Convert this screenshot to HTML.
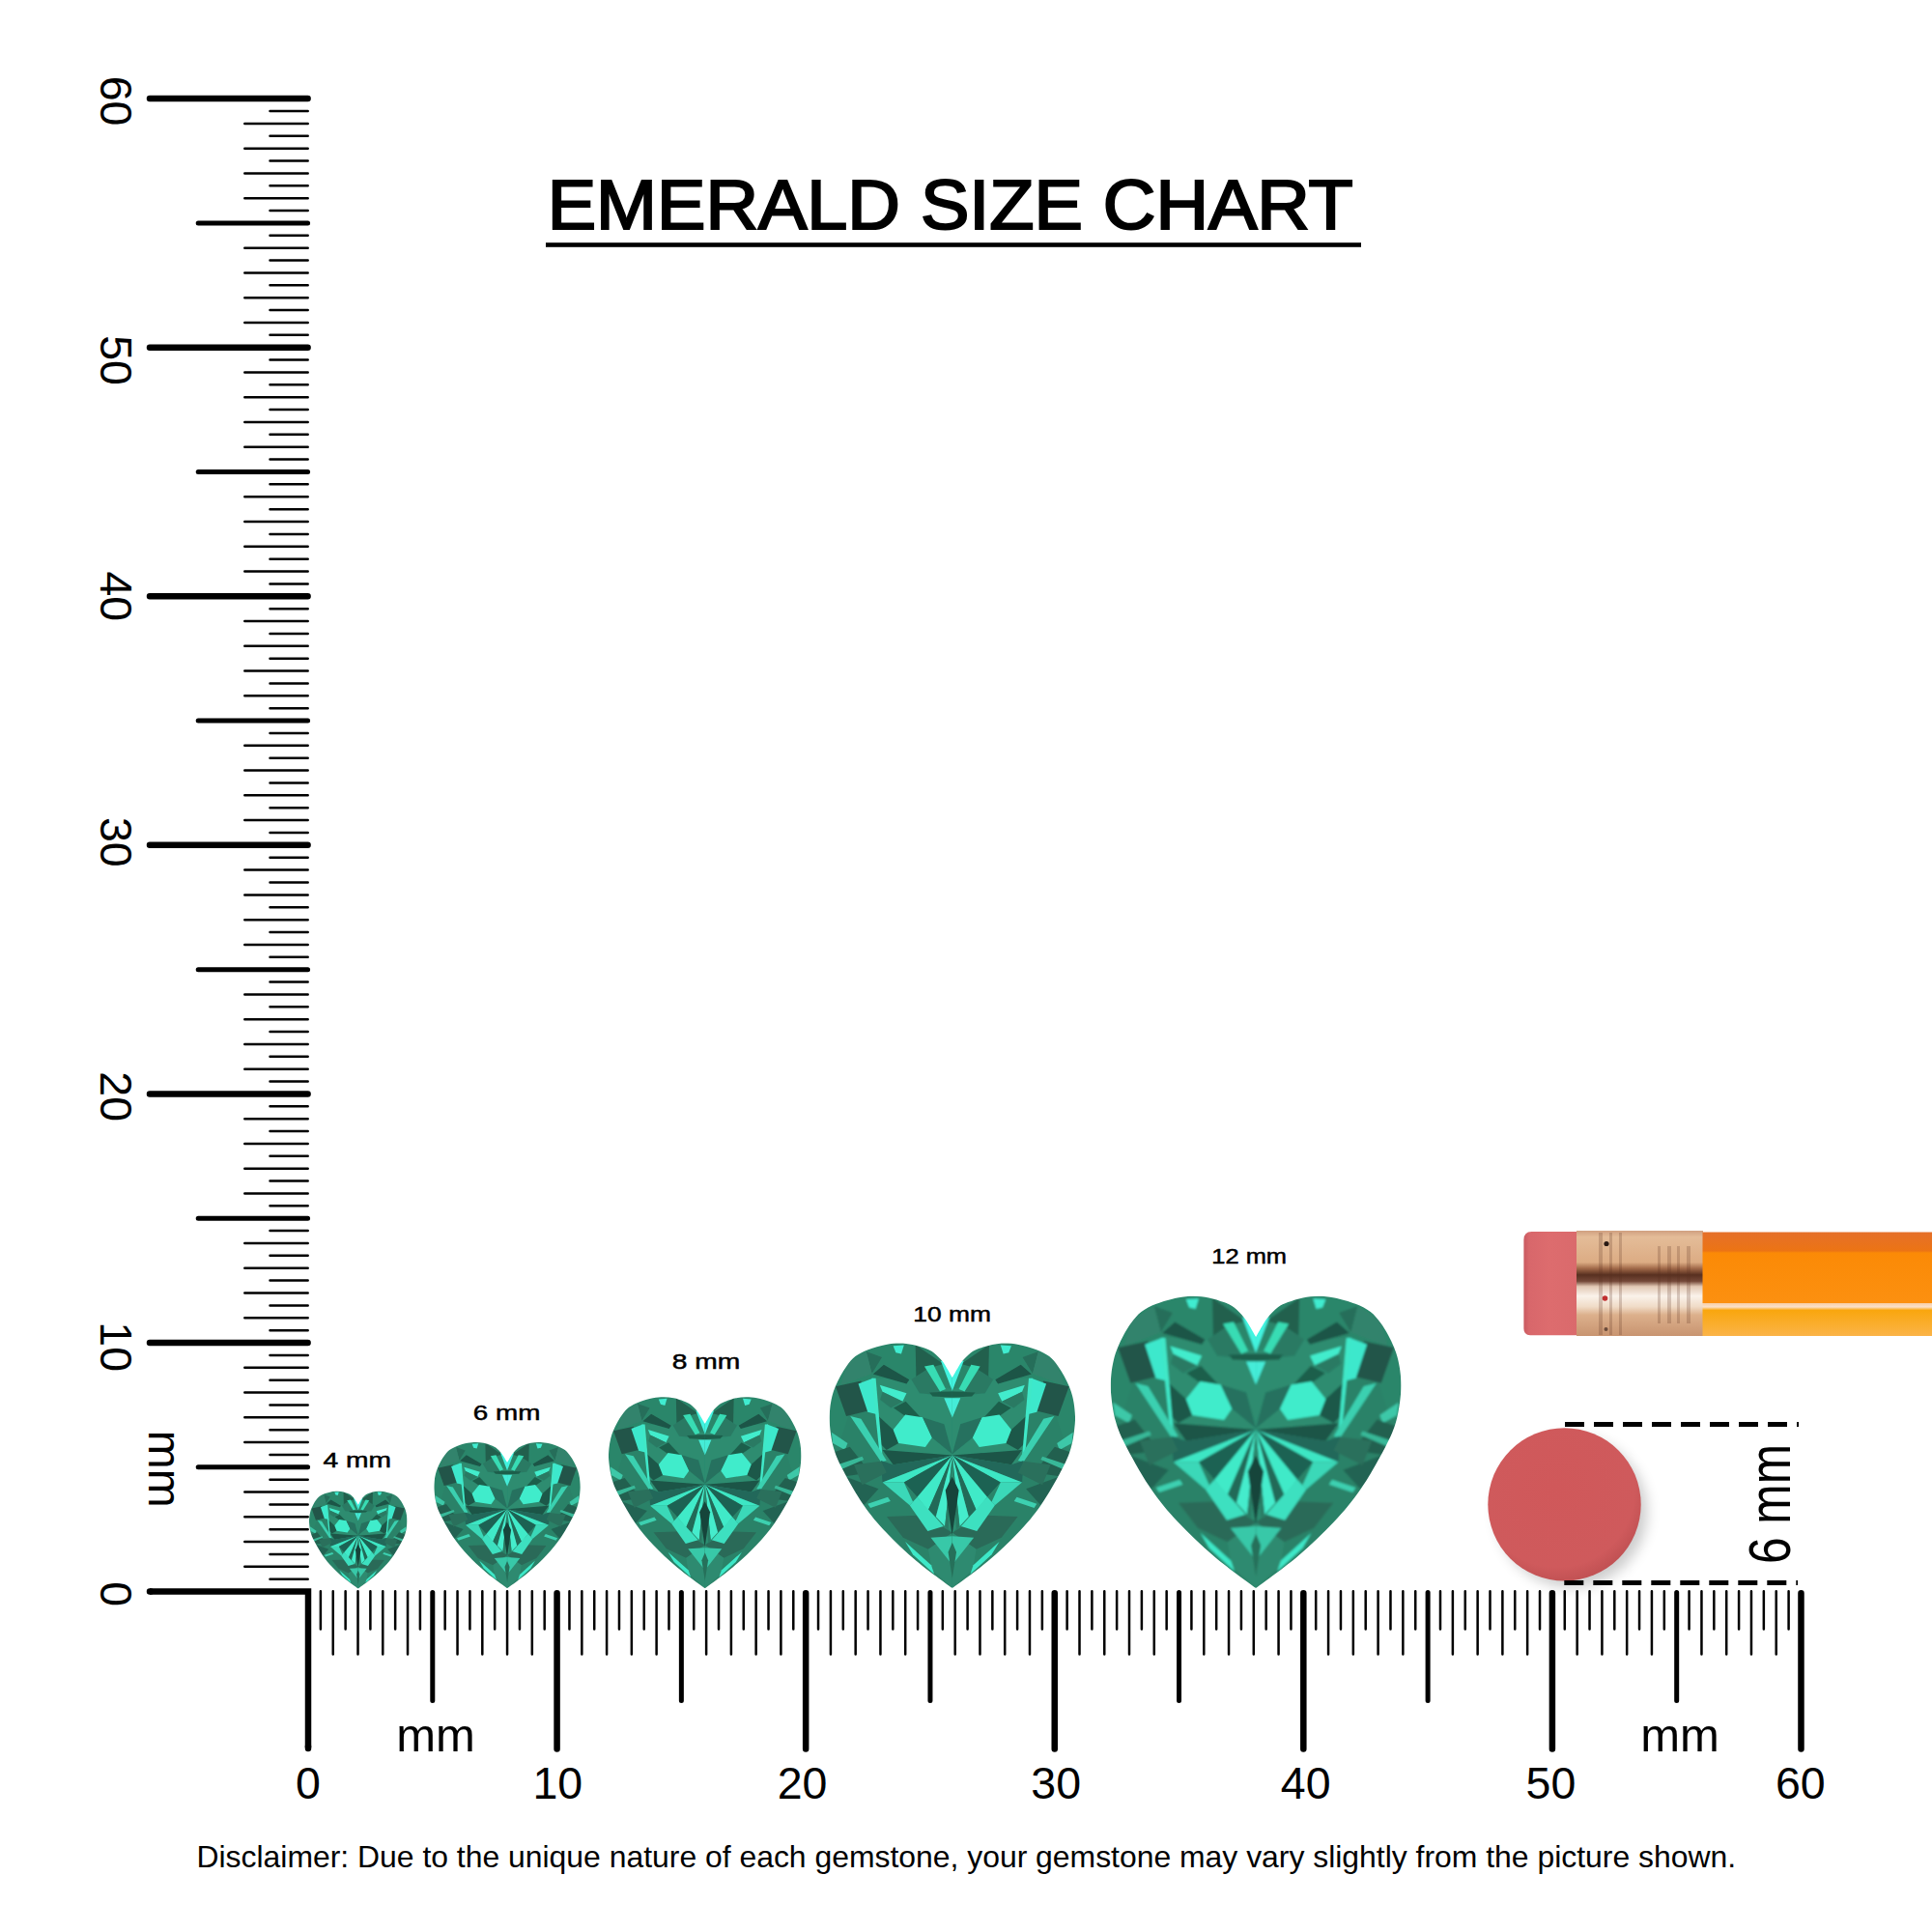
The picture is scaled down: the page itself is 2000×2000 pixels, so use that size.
<!DOCTYPE html>
<html><head><meta charset="utf-8"><title>Emerald Size Chart</title>
<style>html,body{margin:0;padding:0;background:#fff;width:2000px;height:2000px;overflow:hidden}svg{display:block}</style>
</head><body>
<svg width="2000" height="2000" viewBox="0 0 2000 2000">
<defs>
<filter id="blur" x="-50%" y="-50%" width="200%" height="200%"><feGaussianBlur stdDeviation="7"/></filter>
<filter id="gb" x="-5%" y="-5%" width="110%" height="110%"><feGaussianBlur stdDeviation="0.9"/></filter>
<radialGradient id="rg" cx="0.45" cy="0.4" r="0.6"><stop offset="0" stop-color="#d0585a"/><stop offset="0.85" stop-color="#cf5a5c"/><stop offset="1" stop-color="#c25254"/></radialGradient>
<linearGradient id="er" x1="0" y1="0" x2="1" y2="0"><stop offset="0" stop-color="#c95a60"/><stop offset="0.1" stop-color="#d8676b"/><stop offset="0.5" stop-color="#dd6c6e"/><stop offset="1" stop-color="#da6a6c"/></linearGradient>
<linearGradient id="fe" x1="0" y1="0" x2="0" y2="1"><stop offset="0" stop-color="#d0a080"/><stop offset="0.06" stop-color="#e4bc98"/><stop offset="0.3" stop-color="#dcac84"/><stop offset="0.36" stop-color="#a06848"/><stop offset="0.42" stop-color="#583020"/><stop offset="0.48" stop-color="#744838"/><stop offset="0.53" stop-color="#e2c8b4"/><stop offset="0.62" stop-color="#faf2ea"/><stop offset="0.72" stop-color="#f0dcc8"/><stop offset="0.8" stop-color="#dcb08c"/><stop offset="1" stop-color="#c89470"/></linearGradient>
<linearGradient id="pb" x1="0" y1="0" x2="0" y2="1"><stop offset="0" stop-color="#e5702a"/><stop offset="0.18" stop-color="#ec7414"/><stop offset="0.2" stop-color="#fb8a06"/><stop offset="0.68" stop-color="#fc9010"/><stop offset="0.687" stop-color="#f8d0a8"/><stop offset="0.72" stop-color="#fce0c8"/><stop offset="0.752" stop-color="#f9a60e"/><stop offset="1" stop-color="#fbb448"/></linearGradient>
<clipPath id="hc"><path d="M150 302.4C142.78 296.88 120.12 280.72 106.7 269.3C93.28 257.88 80.37 245.55 69.5 233.9C58.63 222.25 50.35 212.3 41.5 199.4C32.65 186.5 22.48 168.23 16.4 156.5C10.32 144.77 7.68 138.42 5 129C2.32 119.58 1.02 107.87 0.3 100C-0.42 92.13 0.17 87.43 0.65 81.8C1.13 76.17 2.08 70.95 3.2 66.2C4.33 61.45 5.67 57.6 7.4 53.3C9.13 49 11.27 44.63 13.6 40.4C15.93 36.17 18.38 31.88 21.4 27.9C24.42 23.92 27.4 19.82 31.7 16.55C36 13.28 40.98 10.73 47.2 8.3C53.42 5.88 62.57 3.34 69 2C75.43 0.66 80.4 0.24 85.8 0.25C91.2 0.26 96.22 0.97 101.4 2.05C106.58 3.12 112.6 5.06 116.9 6.7C121.2 8.34 123.75 9.32 127.2 11.9C130.65 14.48 135 19.18 137.6 22.2C140.2 25.22 140.73 26.62 142.8 30C144.87 33.38 148.8 40.42 150 42.5C151.2 40.42 155.13 33.38 157.2 30C159.27 26.62 159.8 25.22 162.4 22.2C165 19.18 169.35 14.48 172.8 11.9C176.25 9.32 178.8 8.34 183.1 6.7C187.4 5.06 193.42 3.12 198.6 2.05C203.78 0.97 208.8 0.26 214.2 0.25C219.6 0.24 224.57 0.66 231 2C237.43 3.34 246.58 5.88 252.8 8.3C259.02 10.73 264 13.28 268.3 16.55C272.6 19.82 275.58 23.92 278.6 27.9C281.62 31.88 284.07 36.17 286.4 40.4C288.73 44.63 290.87 49 292.6 53.3C294.33 57.6 295.68 61.45 296.8 66.2C297.93 70.95 298.87 76.17 299.35 81.8C299.83 87.43 300.43 92.13 299.7 100C298.97 107.87 297.68 119.58 295 129C292.32 138.42 289.68 144.77 283.6 156.5C277.52 168.23 267.35 186.5 258.5 199.4C249.65 212.3 241.37 222.25 230.5 233.9C219.63 245.55 206.72 257.88 193.3 269.3C179.88 280.72 157.22 296.88 150 302.4Z"/></clipPath>
</defs>
<rect width="2000" height="2000" fill="#fff"/>
<g fill="none" stroke="#000" stroke-linecap="round">
<path stroke-width="2.5" d="M279.5 1634.72H318.7M253.3 1621.84H318.7M279.5 1608.96H318.7M253.3 1596.08H318.7M279.5 1583.2H318.7M253.3 1570.33H318.7M279.5 1557.45H318.7M253.3 1544.57H318.7M279.5 1531.69H318.7M279.5 1505.93H318.7M253.3 1493.05H318.7M279.5 1480.17H318.7M253.3 1467.29H318.7M279.5 1454.41H318.7M253.3 1441.54H318.7M279.5 1428.66H318.7M253.3 1415.78H318.7M279.5 1402.9H318.7M279.5 1377.14H318.7M253.3 1364.26H318.7M279.5 1351.38H318.7M253.3 1338.5H318.7M279.5 1325.62H318.7M253.3 1312.75H318.7M279.5 1299.87H318.7M253.3 1286.99H318.7M279.5 1274.11H318.7M279.5 1248.35H318.7M253.3 1235.47H318.7M279.5 1222.59H318.7M253.3 1209.71H318.7M279.5 1196.84H318.7M253.3 1183.96H318.7M279.5 1171.08H318.7M253.3 1158.2H318.7M279.5 1145.32H318.7M279.5 1119.56H318.7M253.3 1106.68H318.7M279.5 1093.8H318.7M253.3 1080.92H318.7M279.5 1068.05H318.7M253.3 1055.17H318.7M279.5 1042.29H318.7M253.3 1029.41H318.7M279.5 1016.53H318.7M279.5 990.77H318.7M253.3 977.89H318.7M279.5 965.01H318.7M253.3 952.13H318.7M279.5 939.25H318.7M253.3 926.38H318.7M279.5 913.5H318.7M253.3 900.62H318.7M279.5 887.74H318.7M279.5 861.98H318.7M253.3 849.1H318.7M279.5 836.22H318.7M253.3 823.34H318.7M279.5 810.46H318.7M253.3 797.59H318.7M279.5 784.71H318.7M253.3 771.83H318.7M279.5 758.95H318.7M279.5 733.19H318.7M253.3 720.31H318.7M279.5 707.43H318.7M253.3 694.55H318.7M279.5 681.67H318.7M253.3 668.8H318.7M279.5 655.92H318.7M253.3 643.04H318.7M279.5 630.16H318.7M279.5 604.4H318.7M253.3 591.52H318.7M279.5 578.64H318.7M253.3 565.76H318.7M279.5 552.88H318.7M253.3 540.01H318.7M279.5 527.13H318.7M253.3 514.25H318.7M279.5 501.37H318.7M279.5 475.61H318.7M253.3 462.73H318.7M279.5 449.85H318.7M253.3 436.97H318.7M279.5 424.1H318.7M253.3 411.22H318.7M279.5 398.34H318.7M253.3 385.46H318.7M279.5 372.58H318.7M279.5 346.82H318.7M253.3 333.94H318.7M279.5 321.06H318.7M253.3 308.18H318.7M279.5 295.31H318.7M253.3 282.43H318.7M279.5 269.55H318.7M253.3 256.67H318.7M279.5 243.79H318.7M279.5 218.03H318.7M253.3 205.15H318.7M279.5 192.27H318.7M253.3 179.39H318.7M279.5 166.51H318.7M253.3 153.64H318.7M279.5 140.76H318.7M253.3 127.88H318.7M279.5 115H318.7M331.88 1647.2V1686.5M344.76 1647.2V1712.5M357.64 1647.2V1686.5M370.52 1647.2V1712.5M383.39 1647.2V1686.5M396.27 1647.2V1712.5M409.15 1647.2V1686.5M422.03 1647.2V1712.5M434.91 1647.2V1686.5M460.67 1647.2V1686.5M473.55 1647.2V1712.5M486.43 1647.2V1686.5M499.31 1647.2V1712.5M512.18 1647.2V1686.5M525.06 1647.2V1712.5M537.94 1647.2V1686.5M550.82 1647.2V1712.5M563.7 1647.2V1686.5M589.46 1647.2V1686.5M602.34 1647.2V1712.5M615.22 1647.2V1686.5M628.1 1647.2V1712.5M640.97 1647.2V1686.5M653.85 1647.2V1712.5M666.73 1647.2V1686.5M679.61 1647.2V1712.5M692.49 1647.2V1686.5M718.25 1647.2V1686.5M731.13 1647.2V1712.5M744.01 1647.2V1686.5M756.89 1647.2V1712.5M769.76 1647.2V1686.5M782.64 1647.2V1712.5M795.52 1647.2V1686.5M808.4 1647.2V1712.5M821.28 1647.2V1686.5M847.04 1647.2V1686.5M859.92 1647.2V1712.5M872.8 1647.2V1686.5M885.68 1647.2V1712.5M898.55 1647.2V1686.5M911.43 1647.2V1712.5M924.31 1647.2V1686.5M937.19 1647.2V1712.5M950.07 1647.2V1686.5M975.83 1647.2V1686.5M988.71 1647.2V1712.5M1001.59 1647.2V1686.5M1014.47 1647.2V1712.5M1027.35 1647.2V1686.5M1040.22 1647.2V1712.5M1053.1 1647.2V1686.5M1065.98 1647.2V1712.5M1078.86 1647.2V1686.5M1104.62 1647.2V1686.5M1117.5 1647.2V1712.5M1130.38 1647.2V1686.5M1143.26 1647.2V1712.5M1156.13 1647.2V1686.5M1169.01 1647.2V1712.5M1181.89 1647.2V1686.5M1194.77 1647.2V1712.5M1207.65 1647.2V1686.5M1233.41 1647.2V1686.5M1246.29 1647.2V1712.5M1259.17 1647.2V1686.5M1272.05 1647.2V1712.5M1284.92 1647.2V1686.5M1297.8 1647.2V1712.5M1310.68 1647.2V1686.5M1323.56 1647.2V1712.5M1336.44 1647.2V1686.5M1362.2 1647.2V1686.5M1375.08 1647.2V1712.5M1387.96 1647.2V1686.5M1400.84 1647.2V1712.5M1413.71 1647.2V1686.5M1426.59 1647.2V1712.5M1439.47 1647.2V1686.5M1452.35 1647.2V1712.5M1465.23 1647.2V1686.5M1490.99 1647.2V1686.5M1503.87 1647.2V1712.5M1516.75 1647.2V1686.5M1529.63 1647.2V1712.5M1542.5 1647.2V1686.5M1555.38 1647.2V1712.5M1568.26 1647.2V1686.5M1581.14 1647.2V1712.5M1594.02 1647.2V1686.5M1619.78 1647.2V1686.5M1632.66 1647.2V1712.5M1645.54 1647.2V1686.5M1658.42 1647.2V1712.5M1671.29 1647.2V1686.5M1684.17 1647.2V1712.5M1697.05 1647.2V1686.5M1709.93 1647.2V1712.5M1722.81 1647.2V1686.5M1748.57 1647.2V1686.5M1761.45 1647.2V1712.5M1774.33 1647.2V1686.5M1787.21 1647.2V1712.5M1800.09 1647.2V1686.5M1812.96 1647.2V1712.5M1825.84 1647.2V1686.5M1838.72 1647.2V1712.5M1851.6 1647.2V1686.5"/>
<path stroke-width="5" d="M205.2 1518.81H318.6M205.2 1261.23H318.6M205.2 1003.65H318.6M205.2 746.07H318.6M205.2 488.49H318.6M205.2 230.91H318.6M447.79 1648.5V1760.5M705.37 1648.5V1760.5M962.95 1648.5V1760.5M1220.53 1648.5V1760.5M1478.11 1648.5V1760.5M1735.69 1648.5V1760.5"/>
<path stroke-width="6.5" d="M155 1390.02H318.6M155 1132.44H318.6M155 874.86H318.6M155 617.28H318.6M155 359.7H318.6M155 102.12H318.6M576.58 1649.2V1810.4M834.16 1649.2V1810.4M1091.74 1649.2V1810.4M1349.32 1649.2V1810.4M1606.9 1649.2V1810.4M1864.48 1649.2V1810.4"/>
<path stroke-width="6.5" stroke-linejoin="miter" stroke-linecap="butt" d="M155 1647.6H319V1809"/>
<path stroke-width="6.5" d="M155 1647.6H156M319 1808V1810"/>
</g>
<g font-family="Liberation Sans, sans-serif" font-size="46.5" fill="#000" text-anchor="middle">
<text transform="translate(104 1650.1) rotate(90)">0</text>
<text transform="translate(104 1394.22) rotate(90)">10</text>
<text transform="translate(104 1135.14) rotate(90)">20</text>
<text transform="translate(104 871.76) rotate(90)">30</text>
<text transform="translate(104 617.33) rotate(90)">40</text>
<text transform="translate(104 373.1) rotate(90)">50</text>
<text transform="translate(104 104.62) rotate(90)">60</text>
</g>
<text font-family="Liberation Sans, sans-serif" font-size="48" text-anchor="middle" transform="translate(154 1520.8) rotate(90)">mm</text>
<g font-family="Liberation Sans, sans-serif" font-size="46.5" fill="#000" text-anchor="middle">
<text x="319" y="1861.8">0</text>
<text x="577.28" y="1861.8">10</text>
<text x="830.56" y="1861.8">20</text>
<text x="1093.14" y="1861.8">30</text>
<text x="1351.72" y="1861.8">40</text>
<text x="1605.4" y="1861.8">50</text>
<text x="1863.78" y="1861.8">60</text>
</g>
<g font-family="Liberation Sans, sans-serif" font-size="49" fill="#000" text-anchor="middle">
<text x="451" y="1812.5">mm</text><text x="1739" y="1812.5">mm</text>
</g>
<text x="566.7" y="237" font-family="Liberation Sans, sans-serif" font-size="73" stroke="#000" stroke-width="2.2" textLength="834" lengthAdjust="spacingAndGlyphs">EMERALD SIZE CHART</text>
<rect x="565" y="251.2" width="844" height="4.6" fill="#000"/>
<text x="203.5" y="1932.8" font-family="Liberation Sans, sans-serif" font-size="31.9">Disclaimer: Due to the unique nature of each gemstone, your gemstone may vary slightly from the picture shown.</text>
<g font-family="Liberation Sans, sans-serif" font-size="22.5" stroke="#000" stroke-width="0.5" text-anchor="middle" lengthAdjust="spacingAndGlyphs">
<text x="369.8" y="1518.9" textLength="70.5" lengthAdjust="spacingAndGlyphs">4 mm</text>
<text x="524.6" y="1469.9" textLength="69.5" lengthAdjust="spacingAndGlyphs">6 mm</text>
<text x="730.9" y="1417" textLength="70.5" lengthAdjust="spacingAndGlyphs">8 mm</text>
<text x="985.6" y="1368" textLength="80.5" lengthAdjust="spacingAndGlyphs">10 mm</text>
<text x="1293.2" y="1307.5" textLength="77.7" lengthAdjust="spacingAndGlyphs">12 mm</text>
</g>
<svg x="320" y="1543.5" width="101.5" height="101" viewBox="0 0 300 302" preserveAspectRatio="none"><g clip-path="url(#hc)"><g filter="url(#gb)"><rect x="-10" y="-10" width="320" height="322" fill="#2b8a6d"/><polygon fill="#2c866b" points="-10,-10 150,-10 150,57 100,45 52,43 36,50 10,130 -10,130"/><polygon fill="#2c866b" points="310,-10 150,-10 150,57 200,45 248,43 264,50 290,130 310,130"/><polygon fill="#2a8268" points="-10,130 10,130 36,50 54,77 62,126 63,145 150,234 150,310 -10,310"/><polygon fill="#2a8268" points="310,130 290,130 264,50 246,77 238,126 237,145 150,234 150,310 310,310"/><polygon fill="#2d8c70" points="52,43 100,45 150,57 150,234 63,145 62,126 54,77"/><polygon fill="#2d8c70" points="248,43 200,45 150,57 150,234 237,145 238,126 246,77"/><polygon fill="#276e5a" points="44.9,10.6 64.2,17.6 51.9,37.9"/><polygon fill="#276e5a" points="255.1,10.6 235.8,17.6 248.1,37.9"/><polygon fill="#33836c" points="22,25 44.9,10.6 51.9,37.9 14,52"/><polygon fill="#33836c" points="278,25 255.1,10.6 248.1,37.9 286,52"/><polygon fill="#1d5446" points="53.3,38.6 66.4,27 97.5,45.3 94.2,50.3"/><polygon fill="#1d5446" points="246.7,38.6 233.6,27 202.5,45.3 205.8,50.3"/><polygon fill="#40ecd0" points="77.9,3.7 91,2.8 87.7,13.6 81.1,12"/><polygon fill="#40ecd0" points="222.1,3.7 209,2.8 212.3,13.6 218.9,12"/><polygon fill="#245548" points="7.5,53.6 38.6,46.9 48.4,83.5 20.6,90.2"/><polygon fill="#245548" points="292.5,53.6 261.4,46.9 251.6,83.5 279.4,90.2"/><polygon fill="#3ee8cc" points="35.3,50.3 53.3,43.6 59.9,88.5 46.8,85.2"/><polygon fill="#3ee8cc" points="264.7,50.3 246.7,43.6 240.1,88.5 253.2,85.2"/><polygon fill="#42eccc" points="61.5,52 94.2,62 89.3,72 64.8,60.2"/><polygon fill="#42eccc" points="238.5,52 205.8,62 210.7,72 235.2,60.2"/><polygon fill="#2a7a64" points="64.8,60.2 89.3,72 75,80 62,70"/><polygon fill="#2a7a64" points="235.2,60.2 210.7,72 225,80 238,70"/><polygon fill="#22604e" points="105,2 139.3,26 121.4,30.9 106,46"/><polygon fill="#22604e" points="195,2 160.7,26 178.6,30.9 194,46"/><polygon fill="#2a7a64" points="100,45 121.4,30.9 138.8,59.5 150,60 150,66 110,62"/><polygon fill="#2a7a64" points="200,45 178.6,30.9 161.2,59.5 150,60 150,66 190,62"/><polygon fill="#38dcb4" points="116,29 127,27 142,57 135,60"/><polygon fill="#38dcb4" points="184,29 173,27 158,57 165,60"/><polygon fill="#42f4e0" points="136,22 150,22 150,59"/><polygon fill="#42f4e0" points="164,22 150,22 150,59"/><polygon fill="#1f5e4c" points="122,61 150,60 150,67 126,66"/><polygon fill="#1f5e4c" points="178,61 150,60 150,67 174,66"/><polygon fill="#45ecd8" points="140,68 150,68 150,92"/><polygon fill="#45ecd8" points="160,68 150,68 150,92"/><polygon fill="#1f5e4c" points="78.3,80.1 93.2,72.2 113.5,94.2 104.7,98.6"/><polygon fill="#1f5e4c" points="221.7,80.1 206.8,72.2 186.5,94.2 195.3,98.6"/><polygon fill="#1f5848" points="59.9,90.2 77.9,106.8 84.4,123.5 69.7,131.8 61.5,123.5"/><polygon fill="#1f5848" points="240.1,90.2 222.1,106.8 215.6,123.5 230.3,131.8 238.5,123.5"/><polygon fill="#40eccb" points="77.9,106.8 92.6,88.5 113.8,91.9 125.3,116.8 117.1,128.5 84.4,123.5"/><polygon fill="#40eccb" points="222.1,106.8 207.4,88.5 186.2,91.9 174.7,116.8 182.9,128.5 215.6,123.5"/><polygon fill="#26715e" points="113.8,91.9 140,100 150,137 125.3,116.8"/><polygon fill="#26715e" points="186.2,91.9 160,100 150,137 174.7,116.8"/><polygon fill="#3fe8c8" points="51.7,43.6 56.6,43.6 64.8,140.1 61.5,140.1"/><polygon fill="#3fe8c8" points="248.3,43.6 243.4,43.6 235.2,140.1 238.5,140.1"/><polygon fill="#3ad0b0" points="25.5,90.2 38.6,93.5 69.7,145.1 63.1,146.8"/><polygon fill="#3ad0b0" points="274.5,90.2 261.4,93.5 230.3,145.1 236.9,146.8"/><polygon fill="#3cc8a8" points="2.6,110.2 22.2,123.5 19,131.8 4.2,123.5"/><polygon fill="#3cc8a8" points="297.4,110.2 277.8,123.5 281,131.8 295.8,123.5"/><polygon fill="#24604f" points="5,135 25,128 50,160 15,165"/><polygon fill="#24604f" points="295,135 275,128 250,160 285,165"/><polygon fill="#1c5446" points="64.8,131.8 150,138.5 77.9,150.1"/><polygon fill="#1c5446" points="235.2,131.8 150,138.5 222.1,150.1"/><polygon fill="#22675a" points="63,145 77.9,150.1 150,138.5 64.8,171.8"/><polygon fill="#22675a" points="237,145 222.1,150.1 150,138.5 235.2,171.8"/><polygon fill="#3ee6c4" points="150,138.5 64.8,171.8 91,171.8"/><polygon fill="#3ee6c4" points="150,138.5 235.2,171.8 209,171.8"/><polygon fill="#1f6252" points="150,138.5 91,171.8 107.3,190"/><polygon fill="#1f6252" points="150,138.5 209,171.8 192.7,190"/><polygon fill="#40eac8" points="150,138.5 107.3,190 120.4,206.7"/><polygon fill="#40eac8" points="150,138.5 192.7,190 179.6,206.7"/><polygon fill="#236a58" points="150,138.5 120.4,206.7 130,214"/><polygon fill="#236a58" points="150,138.5 179.6,206.7 170,214"/><polygon fill="#45eccc" points="150,138.5 130,214 141,226"/><polygon fill="#45eccc" points="150,138.5 170,214 159,226"/><polygon fill="#2a7a64" points="150,138.5 141,226 145,230"/><polygon fill="#2a7a64" points="150,138.5 159,226 155,230"/><polygon fill="#3ad8b8" points="64.8,171.8 91,171.8 102,196 98,200"/><polygon fill="#3ad8b8" points="235.2,171.8 209,171.8 198,196 202,200"/><polygon fill="#2a6a58" points="70,214 116.1,212.4 150,234 120.7,254.4 90,240"/><polygon fill="#2a6a58" points="230,214 183.9,212.4 150,234 179.3,254.4 210,240"/><polygon fill="#3ee0c0" points="98,200 107.3,190 139.3,226 120,232"/><polygon fill="#3ee0c0" points="202,200 192.7,190 160.7,226 180,232"/><polygon fill="#246452" points="20,165 60,180 42.5,199.4 30,190"/><polygon fill="#246452" points="280,165 240,180 257.5,199.4 270,190"/><polygon fill="#3cd0b0" points="46.8,198.4 71.3,190 74.6,195 50,203.4"/><polygon fill="#3cd0b0" points="253.2,198.4 228.7,190 225.4,195 250,203.4"/><polygon fill="#38b898" points="10,150 40,140 42,144 14,156"/><polygon fill="#38b898" points="290,150 260,140 258,144 286,156"/><polygon fill="#2a6f5c" points="30,150 63,146 70,160 40,175"/><polygon fill="#2a6f5c" points="270,150 237,146 230,160 260,175"/><polygon fill="#2f8a70" points="120.7,254.4 150,234 150,302 125,280"/><polygon fill="#2f8a70" points="179.3,254.4 150,234 150,302 175,280"/><polygon fill="#38c8a8" points="123.7,240 149.8,238.3 149.8,273.3"/><polygon fill="#38c8a8" points="176.3,240 150.2,238.3 150.2,273.3"/><polygon fill="#3ee8c8" points="124.3,273.9 92.6,245 101.9,260.9 128,285"/><polygon fill="#3ee8c8" points="175.7,273.9 207.4,245 198.1,260.9 172,285"/><polygon fill="#17443a" points="141.7,181.7 149.8,165.1 158,181.7 149.8,236.7"/><polygon fill="#26705a" points="145,258 150,246 155,258 150,290"/></g></g></svg>
<svg x="449.3" y="1492.8" width="151.5" height="151.2" viewBox="0 0 300 302" preserveAspectRatio="none"><g clip-path="url(#hc)"><g filter="url(#gb)"><rect x="-10" y="-10" width="320" height="322" fill="#2b8a6d"/><polygon fill="#2c866b" points="-10,-10 150,-10 150,57 100,45 52,43 36,50 10,130 -10,130"/><polygon fill="#2c866b" points="310,-10 150,-10 150,57 200,45 248,43 264,50 290,130 310,130"/><polygon fill="#2a8268" points="-10,130 10,130 36,50 54,77 62,126 63,145 150,234 150,310 -10,310"/><polygon fill="#2a8268" points="310,130 290,130 264,50 246,77 238,126 237,145 150,234 150,310 310,310"/><polygon fill="#2d8c70" points="52,43 100,45 150,57 150,234 63,145 62,126 54,77"/><polygon fill="#2d8c70" points="248,43 200,45 150,57 150,234 237,145 238,126 246,77"/><polygon fill="#276e5a" points="44.9,10.6 64.2,17.6 51.9,37.9"/><polygon fill="#276e5a" points="255.1,10.6 235.8,17.6 248.1,37.9"/><polygon fill="#33836c" points="22,25 44.9,10.6 51.9,37.9 14,52"/><polygon fill="#33836c" points="278,25 255.1,10.6 248.1,37.9 286,52"/><polygon fill="#1d5446" points="53.3,38.6 66.4,27 97.5,45.3 94.2,50.3"/><polygon fill="#1d5446" points="246.7,38.6 233.6,27 202.5,45.3 205.8,50.3"/><polygon fill="#40ecd0" points="77.9,3.7 91,2.8 87.7,13.6 81.1,12"/><polygon fill="#40ecd0" points="222.1,3.7 209,2.8 212.3,13.6 218.9,12"/><polygon fill="#245548" points="7.5,53.6 38.6,46.9 48.4,83.5 20.6,90.2"/><polygon fill="#245548" points="292.5,53.6 261.4,46.9 251.6,83.5 279.4,90.2"/><polygon fill="#3ee8cc" points="35.3,50.3 53.3,43.6 59.9,88.5 46.8,85.2"/><polygon fill="#3ee8cc" points="264.7,50.3 246.7,43.6 240.1,88.5 253.2,85.2"/><polygon fill="#42eccc" points="61.5,52 94.2,62 89.3,72 64.8,60.2"/><polygon fill="#42eccc" points="238.5,52 205.8,62 210.7,72 235.2,60.2"/><polygon fill="#2a7a64" points="64.8,60.2 89.3,72 75,80 62,70"/><polygon fill="#2a7a64" points="235.2,60.2 210.7,72 225,80 238,70"/><polygon fill="#22604e" points="105,2 139.3,26 121.4,30.9 106,46"/><polygon fill="#22604e" points="195,2 160.7,26 178.6,30.9 194,46"/><polygon fill="#2a7a64" points="100,45 121.4,30.9 138.8,59.5 150,60 150,66 110,62"/><polygon fill="#2a7a64" points="200,45 178.6,30.9 161.2,59.5 150,60 150,66 190,62"/><polygon fill="#38dcb4" points="116,29 127,27 142,57 135,60"/><polygon fill="#38dcb4" points="184,29 173,27 158,57 165,60"/><polygon fill="#42f4e0" points="136,22 150,22 150,59"/><polygon fill="#42f4e0" points="164,22 150,22 150,59"/><polygon fill="#1f5e4c" points="122,61 150,60 150,67 126,66"/><polygon fill="#1f5e4c" points="178,61 150,60 150,67 174,66"/><polygon fill="#45ecd8" points="140,68 150,68 150,92"/><polygon fill="#45ecd8" points="160,68 150,68 150,92"/><polygon fill="#1f5e4c" points="78.3,80.1 93.2,72.2 113.5,94.2 104.7,98.6"/><polygon fill="#1f5e4c" points="221.7,80.1 206.8,72.2 186.5,94.2 195.3,98.6"/><polygon fill="#1f5848" points="59.9,90.2 77.9,106.8 84.4,123.5 69.7,131.8 61.5,123.5"/><polygon fill="#1f5848" points="240.1,90.2 222.1,106.8 215.6,123.5 230.3,131.8 238.5,123.5"/><polygon fill="#40eccb" points="77.9,106.8 92.6,88.5 113.8,91.9 125.3,116.8 117.1,128.5 84.4,123.5"/><polygon fill="#40eccb" points="222.1,106.8 207.4,88.5 186.2,91.9 174.7,116.8 182.9,128.5 215.6,123.5"/><polygon fill="#26715e" points="113.8,91.9 140,100 150,137 125.3,116.8"/><polygon fill="#26715e" points="186.2,91.9 160,100 150,137 174.7,116.8"/><polygon fill="#3fe8c8" points="51.7,43.6 56.6,43.6 64.8,140.1 61.5,140.1"/><polygon fill="#3fe8c8" points="248.3,43.6 243.4,43.6 235.2,140.1 238.5,140.1"/><polygon fill="#3ad0b0" points="25.5,90.2 38.6,93.5 69.7,145.1 63.1,146.8"/><polygon fill="#3ad0b0" points="274.5,90.2 261.4,93.5 230.3,145.1 236.9,146.8"/><polygon fill="#3cc8a8" points="2.6,110.2 22.2,123.5 19,131.8 4.2,123.5"/><polygon fill="#3cc8a8" points="297.4,110.2 277.8,123.5 281,131.8 295.8,123.5"/><polygon fill="#24604f" points="5,135 25,128 50,160 15,165"/><polygon fill="#24604f" points="295,135 275,128 250,160 285,165"/><polygon fill="#1c5446" points="64.8,131.8 150,138.5 77.9,150.1"/><polygon fill="#1c5446" points="235.2,131.8 150,138.5 222.1,150.1"/><polygon fill="#22675a" points="63,145 77.9,150.1 150,138.5 64.8,171.8"/><polygon fill="#22675a" points="237,145 222.1,150.1 150,138.5 235.2,171.8"/><polygon fill="#3ee6c4" points="150,138.5 64.8,171.8 91,171.8"/><polygon fill="#3ee6c4" points="150,138.5 235.2,171.8 209,171.8"/><polygon fill="#1f6252" points="150,138.5 91,171.8 107.3,190"/><polygon fill="#1f6252" points="150,138.5 209,171.8 192.7,190"/><polygon fill="#40eac8" points="150,138.5 107.3,190 120.4,206.7"/><polygon fill="#40eac8" points="150,138.5 192.7,190 179.6,206.7"/><polygon fill="#236a58" points="150,138.5 120.4,206.7 130,214"/><polygon fill="#236a58" points="150,138.5 179.6,206.7 170,214"/><polygon fill="#45eccc" points="150,138.5 130,214 141,226"/><polygon fill="#45eccc" points="150,138.5 170,214 159,226"/><polygon fill="#2a7a64" points="150,138.5 141,226 145,230"/><polygon fill="#2a7a64" points="150,138.5 159,226 155,230"/><polygon fill="#3ad8b8" points="64.8,171.8 91,171.8 102,196 98,200"/><polygon fill="#3ad8b8" points="235.2,171.8 209,171.8 198,196 202,200"/><polygon fill="#2a6a58" points="70,214 116.1,212.4 150,234 120.7,254.4 90,240"/><polygon fill="#2a6a58" points="230,214 183.9,212.4 150,234 179.3,254.4 210,240"/><polygon fill="#3ee0c0" points="98,200 107.3,190 139.3,226 120,232"/><polygon fill="#3ee0c0" points="202,200 192.7,190 160.7,226 180,232"/><polygon fill="#246452" points="20,165 60,180 42.5,199.4 30,190"/><polygon fill="#246452" points="280,165 240,180 257.5,199.4 270,190"/><polygon fill="#3cd0b0" points="46.8,198.4 71.3,190 74.6,195 50,203.4"/><polygon fill="#3cd0b0" points="253.2,198.4 228.7,190 225.4,195 250,203.4"/><polygon fill="#38b898" points="10,150 40,140 42,144 14,156"/><polygon fill="#38b898" points="290,150 260,140 258,144 286,156"/><polygon fill="#2a6f5c" points="30,150 63,146 70,160 40,175"/><polygon fill="#2a6f5c" points="270,150 237,146 230,160 260,175"/><polygon fill="#2f8a70" points="120.7,254.4 150,234 150,302 125,280"/><polygon fill="#2f8a70" points="179.3,254.4 150,234 150,302 175,280"/><polygon fill="#38c8a8" points="123.7,240 149.8,238.3 149.8,273.3"/><polygon fill="#38c8a8" points="176.3,240 150.2,238.3 150.2,273.3"/><polygon fill="#3ee8c8" points="124.3,273.9 92.6,245 101.9,260.9 128,285"/><polygon fill="#3ee8c8" points="175.7,273.9 207.4,245 198.1,260.9 172,285"/><polygon fill="#17443a" points="141.7,181.7 149.8,165.1 158,181.7 149.8,236.7"/><polygon fill="#26705a" points="145,258 150,246 155,258 150,290"/></g></g></svg>
<svg x="630" y="1446" width="199.5" height="198" viewBox="0 0 300 302" preserveAspectRatio="none"><g clip-path="url(#hc)"><g filter="url(#gb)"><rect x="-10" y="-10" width="320" height="322" fill="#2b8a6d"/><polygon fill="#2c866b" points="-10,-10 150,-10 150,57 100,45 52,43 36,50 10,130 -10,130"/><polygon fill="#2c866b" points="310,-10 150,-10 150,57 200,45 248,43 264,50 290,130 310,130"/><polygon fill="#2a8268" points="-10,130 10,130 36,50 54,77 62,126 63,145 150,234 150,310 -10,310"/><polygon fill="#2a8268" points="310,130 290,130 264,50 246,77 238,126 237,145 150,234 150,310 310,310"/><polygon fill="#2d8c70" points="52,43 100,45 150,57 150,234 63,145 62,126 54,77"/><polygon fill="#2d8c70" points="248,43 200,45 150,57 150,234 237,145 238,126 246,77"/><polygon fill="#276e5a" points="44.9,10.6 64.2,17.6 51.9,37.9"/><polygon fill="#276e5a" points="255.1,10.6 235.8,17.6 248.1,37.9"/><polygon fill="#33836c" points="22,25 44.9,10.6 51.9,37.9 14,52"/><polygon fill="#33836c" points="278,25 255.1,10.6 248.1,37.9 286,52"/><polygon fill="#1d5446" points="53.3,38.6 66.4,27 97.5,45.3 94.2,50.3"/><polygon fill="#1d5446" points="246.7,38.6 233.6,27 202.5,45.3 205.8,50.3"/><polygon fill="#40ecd0" points="77.9,3.7 91,2.8 87.7,13.6 81.1,12"/><polygon fill="#40ecd0" points="222.1,3.7 209,2.8 212.3,13.6 218.9,12"/><polygon fill="#245548" points="7.5,53.6 38.6,46.9 48.4,83.5 20.6,90.2"/><polygon fill="#245548" points="292.5,53.6 261.4,46.9 251.6,83.5 279.4,90.2"/><polygon fill="#3ee8cc" points="35.3,50.3 53.3,43.6 59.9,88.5 46.8,85.2"/><polygon fill="#3ee8cc" points="264.7,50.3 246.7,43.6 240.1,88.5 253.2,85.2"/><polygon fill="#42eccc" points="61.5,52 94.2,62 89.3,72 64.8,60.2"/><polygon fill="#42eccc" points="238.5,52 205.8,62 210.7,72 235.2,60.2"/><polygon fill="#2a7a64" points="64.8,60.2 89.3,72 75,80 62,70"/><polygon fill="#2a7a64" points="235.2,60.2 210.7,72 225,80 238,70"/><polygon fill="#22604e" points="105,2 139.3,26 121.4,30.9 106,46"/><polygon fill="#22604e" points="195,2 160.7,26 178.6,30.9 194,46"/><polygon fill="#2a7a64" points="100,45 121.4,30.9 138.8,59.5 150,60 150,66 110,62"/><polygon fill="#2a7a64" points="200,45 178.6,30.9 161.2,59.5 150,60 150,66 190,62"/><polygon fill="#38dcb4" points="116,29 127,27 142,57 135,60"/><polygon fill="#38dcb4" points="184,29 173,27 158,57 165,60"/><polygon fill="#42f4e0" points="136,22 150,22 150,59"/><polygon fill="#42f4e0" points="164,22 150,22 150,59"/><polygon fill="#1f5e4c" points="122,61 150,60 150,67 126,66"/><polygon fill="#1f5e4c" points="178,61 150,60 150,67 174,66"/><polygon fill="#45ecd8" points="140,68 150,68 150,92"/><polygon fill="#45ecd8" points="160,68 150,68 150,92"/><polygon fill="#1f5e4c" points="78.3,80.1 93.2,72.2 113.5,94.2 104.7,98.6"/><polygon fill="#1f5e4c" points="221.7,80.1 206.8,72.2 186.5,94.2 195.3,98.6"/><polygon fill="#1f5848" points="59.9,90.2 77.9,106.8 84.4,123.5 69.7,131.8 61.5,123.5"/><polygon fill="#1f5848" points="240.1,90.2 222.1,106.8 215.6,123.5 230.3,131.8 238.5,123.5"/><polygon fill="#40eccb" points="77.9,106.8 92.6,88.5 113.8,91.9 125.3,116.8 117.1,128.5 84.4,123.5"/><polygon fill="#40eccb" points="222.1,106.8 207.4,88.5 186.2,91.9 174.7,116.8 182.9,128.5 215.6,123.5"/><polygon fill="#26715e" points="113.8,91.9 140,100 150,137 125.3,116.8"/><polygon fill="#26715e" points="186.2,91.9 160,100 150,137 174.7,116.8"/><polygon fill="#3fe8c8" points="51.7,43.6 56.6,43.6 64.8,140.1 61.5,140.1"/><polygon fill="#3fe8c8" points="248.3,43.6 243.4,43.6 235.2,140.1 238.5,140.1"/><polygon fill="#3ad0b0" points="25.5,90.2 38.6,93.5 69.7,145.1 63.1,146.8"/><polygon fill="#3ad0b0" points="274.5,90.2 261.4,93.5 230.3,145.1 236.9,146.8"/><polygon fill="#3cc8a8" points="2.6,110.2 22.2,123.5 19,131.8 4.2,123.5"/><polygon fill="#3cc8a8" points="297.4,110.2 277.8,123.5 281,131.8 295.8,123.5"/><polygon fill="#24604f" points="5,135 25,128 50,160 15,165"/><polygon fill="#24604f" points="295,135 275,128 250,160 285,165"/><polygon fill="#1c5446" points="64.8,131.8 150,138.5 77.9,150.1"/><polygon fill="#1c5446" points="235.2,131.8 150,138.5 222.1,150.1"/><polygon fill="#22675a" points="63,145 77.9,150.1 150,138.5 64.8,171.8"/><polygon fill="#22675a" points="237,145 222.1,150.1 150,138.5 235.2,171.8"/><polygon fill="#3ee6c4" points="150,138.5 64.8,171.8 91,171.8"/><polygon fill="#3ee6c4" points="150,138.5 235.2,171.8 209,171.8"/><polygon fill="#1f6252" points="150,138.5 91,171.8 107.3,190"/><polygon fill="#1f6252" points="150,138.5 209,171.8 192.7,190"/><polygon fill="#40eac8" points="150,138.5 107.3,190 120.4,206.7"/><polygon fill="#40eac8" points="150,138.5 192.7,190 179.6,206.7"/><polygon fill="#236a58" points="150,138.5 120.4,206.7 130,214"/><polygon fill="#236a58" points="150,138.5 179.6,206.7 170,214"/><polygon fill="#45eccc" points="150,138.5 130,214 141,226"/><polygon fill="#45eccc" points="150,138.5 170,214 159,226"/><polygon fill="#2a7a64" points="150,138.5 141,226 145,230"/><polygon fill="#2a7a64" points="150,138.5 159,226 155,230"/><polygon fill="#3ad8b8" points="64.8,171.8 91,171.8 102,196 98,200"/><polygon fill="#3ad8b8" points="235.2,171.8 209,171.8 198,196 202,200"/><polygon fill="#2a6a58" points="70,214 116.1,212.4 150,234 120.7,254.4 90,240"/><polygon fill="#2a6a58" points="230,214 183.9,212.4 150,234 179.3,254.4 210,240"/><polygon fill="#3ee0c0" points="98,200 107.3,190 139.3,226 120,232"/><polygon fill="#3ee0c0" points="202,200 192.7,190 160.7,226 180,232"/><polygon fill="#246452" points="20,165 60,180 42.5,199.4 30,190"/><polygon fill="#246452" points="280,165 240,180 257.5,199.4 270,190"/><polygon fill="#3cd0b0" points="46.8,198.4 71.3,190 74.6,195 50,203.4"/><polygon fill="#3cd0b0" points="253.2,198.4 228.7,190 225.4,195 250,203.4"/><polygon fill="#38b898" points="10,150 40,140 42,144 14,156"/><polygon fill="#38b898" points="290,150 260,140 258,144 286,156"/><polygon fill="#2a6f5c" points="30,150 63,146 70,160 40,175"/><polygon fill="#2a6f5c" points="270,150 237,146 230,160 260,175"/><polygon fill="#2f8a70" points="120.7,254.4 150,234 150,302 125,280"/><polygon fill="#2f8a70" points="179.3,254.4 150,234 150,302 175,280"/><polygon fill="#38c8a8" points="123.7,240 149.8,238.3 149.8,273.3"/><polygon fill="#38c8a8" points="176.3,240 150.2,238.3 150.2,273.3"/><polygon fill="#3ee8c8" points="124.3,273.9 92.6,245 101.9,260.9 128,285"/><polygon fill="#3ee8c8" points="175.7,273.9 207.4,245 198.1,260.9 172,285"/><polygon fill="#17443a" points="141.7,181.7 149.8,165.1 158,181.7 149.8,236.7"/><polygon fill="#26705a" points="145,258 150,246 155,258 150,290"/></g></g></svg>
<svg x="858.6" y="1390.2" width="254.4" height="253.6" viewBox="0 0 300 302" preserveAspectRatio="none"><g clip-path="url(#hc)"><g filter="url(#gb)"><rect x="-10" y="-10" width="320" height="322" fill="#2b8a6d"/><polygon fill="#2c866b" points="-10,-10 150,-10 150,57 100,45 52,43 36,50 10,130 -10,130"/><polygon fill="#2c866b" points="310,-10 150,-10 150,57 200,45 248,43 264,50 290,130 310,130"/><polygon fill="#2a8268" points="-10,130 10,130 36,50 54,77 62,126 63,145 150,234 150,310 -10,310"/><polygon fill="#2a8268" points="310,130 290,130 264,50 246,77 238,126 237,145 150,234 150,310 310,310"/><polygon fill="#2d8c70" points="52,43 100,45 150,57 150,234 63,145 62,126 54,77"/><polygon fill="#2d8c70" points="248,43 200,45 150,57 150,234 237,145 238,126 246,77"/><polygon fill="#276e5a" points="44.9,10.6 64.2,17.6 51.9,37.9"/><polygon fill="#276e5a" points="255.1,10.6 235.8,17.6 248.1,37.9"/><polygon fill="#33836c" points="22,25 44.9,10.6 51.9,37.9 14,52"/><polygon fill="#33836c" points="278,25 255.1,10.6 248.1,37.9 286,52"/><polygon fill="#1d5446" points="53.3,38.6 66.4,27 97.5,45.3 94.2,50.3"/><polygon fill="#1d5446" points="246.7,38.6 233.6,27 202.5,45.3 205.8,50.3"/><polygon fill="#40ecd0" points="77.9,3.7 91,2.8 87.7,13.6 81.1,12"/><polygon fill="#40ecd0" points="222.1,3.7 209,2.8 212.3,13.6 218.9,12"/><polygon fill="#245548" points="7.5,53.6 38.6,46.9 48.4,83.5 20.6,90.2"/><polygon fill="#245548" points="292.5,53.6 261.4,46.9 251.6,83.5 279.4,90.2"/><polygon fill="#3ee8cc" points="35.3,50.3 53.3,43.6 59.9,88.5 46.8,85.2"/><polygon fill="#3ee8cc" points="264.7,50.3 246.7,43.6 240.1,88.5 253.2,85.2"/><polygon fill="#42eccc" points="61.5,52 94.2,62 89.3,72 64.8,60.2"/><polygon fill="#42eccc" points="238.5,52 205.8,62 210.7,72 235.2,60.2"/><polygon fill="#2a7a64" points="64.8,60.2 89.3,72 75,80 62,70"/><polygon fill="#2a7a64" points="235.2,60.2 210.7,72 225,80 238,70"/><polygon fill="#22604e" points="105,2 139.3,26 121.4,30.9 106,46"/><polygon fill="#22604e" points="195,2 160.7,26 178.6,30.9 194,46"/><polygon fill="#2a7a64" points="100,45 121.4,30.9 138.8,59.5 150,60 150,66 110,62"/><polygon fill="#2a7a64" points="200,45 178.6,30.9 161.2,59.5 150,60 150,66 190,62"/><polygon fill="#38dcb4" points="116,29 127,27 142,57 135,60"/><polygon fill="#38dcb4" points="184,29 173,27 158,57 165,60"/><polygon fill="#42f4e0" points="136,22 150,22 150,59"/><polygon fill="#42f4e0" points="164,22 150,22 150,59"/><polygon fill="#1f5e4c" points="122,61 150,60 150,67 126,66"/><polygon fill="#1f5e4c" points="178,61 150,60 150,67 174,66"/><polygon fill="#45ecd8" points="140,68 150,68 150,92"/><polygon fill="#45ecd8" points="160,68 150,68 150,92"/><polygon fill="#1f5e4c" points="78.3,80.1 93.2,72.2 113.5,94.2 104.7,98.6"/><polygon fill="#1f5e4c" points="221.7,80.1 206.8,72.2 186.5,94.2 195.3,98.6"/><polygon fill="#1f5848" points="59.9,90.2 77.9,106.8 84.4,123.5 69.7,131.8 61.5,123.5"/><polygon fill="#1f5848" points="240.1,90.2 222.1,106.8 215.6,123.5 230.3,131.8 238.5,123.5"/><polygon fill="#40eccb" points="77.9,106.8 92.6,88.5 113.8,91.9 125.3,116.8 117.1,128.5 84.4,123.5"/><polygon fill="#40eccb" points="222.1,106.8 207.4,88.5 186.2,91.9 174.7,116.8 182.9,128.5 215.6,123.5"/><polygon fill="#26715e" points="113.8,91.9 140,100 150,137 125.3,116.8"/><polygon fill="#26715e" points="186.2,91.9 160,100 150,137 174.7,116.8"/><polygon fill="#3fe8c8" points="51.7,43.6 56.6,43.6 64.8,140.1 61.5,140.1"/><polygon fill="#3fe8c8" points="248.3,43.6 243.4,43.6 235.2,140.1 238.5,140.1"/><polygon fill="#3ad0b0" points="25.5,90.2 38.6,93.5 69.7,145.1 63.1,146.8"/><polygon fill="#3ad0b0" points="274.5,90.2 261.4,93.5 230.3,145.1 236.9,146.8"/><polygon fill="#3cc8a8" points="2.6,110.2 22.2,123.5 19,131.8 4.2,123.5"/><polygon fill="#3cc8a8" points="297.4,110.2 277.8,123.5 281,131.8 295.8,123.5"/><polygon fill="#24604f" points="5,135 25,128 50,160 15,165"/><polygon fill="#24604f" points="295,135 275,128 250,160 285,165"/><polygon fill="#1c5446" points="64.8,131.8 150,138.5 77.9,150.1"/><polygon fill="#1c5446" points="235.2,131.8 150,138.5 222.1,150.1"/><polygon fill="#22675a" points="63,145 77.9,150.1 150,138.5 64.8,171.8"/><polygon fill="#22675a" points="237,145 222.1,150.1 150,138.5 235.2,171.8"/><polygon fill="#3ee6c4" points="150,138.5 64.8,171.8 91,171.8"/><polygon fill="#3ee6c4" points="150,138.5 235.2,171.8 209,171.8"/><polygon fill="#1f6252" points="150,138.5 91,171.8 107.3,190"/><polygon fill="#1f6252" points="150,138.5 209,171.8 192.7,190"/><polygon fill="#40eac8" points="150,138.5 107.3,190 120.4,206.7"/><polygon fill="#40eac8" points="150,138.5 192.7,190 179.6,206.7"/><polygon fill="#236a58" points="150,138.5 120.4,206.7 130,214"/><polygon fill="#236a58" points="150,138.5 179.6,206.7 170,214"/><polygon fill="#45eccc" points="150,138.5 130,214 141,226"/><polygon fill="#45eccc" points="150,138.5 170,214 159,226"/><polygon fill="#2a7a64" points="150,138.5 141,226 145,230"/><polygon fill="#2a7a64" points="150,138.5 159,226 155,230"/><polygon fill="#3ad8b8" points="64.8,171.8 91,171.8 102,196 98,200"/><polygon fill="#3ad8b8" points="235.2,171.8 209,171.8 198,196 202,200"/><polygon fill="#2a6a58" points="70,214 116.1,212.4 150,234 120.7,254.4 90,240"/><polygon fill="#2a6a58" points="230,214 183.9,212.4 150,234 179.3,254.4 210,240"/><polygon fill="#3ee0c0" points="98,200 107.3,190 139.3,226 120,232"/><polygon fill="#3ee0c0" points="202,200 192.7,190 160.7,226 180,232"/><polygon fill="#246452" points="20,165 60,180 42.5,199.4 30,190"/><polygon fill="#246452" points="280,165 240,180 257.5,199.4 270,190"/><polygon fill="#3cd0b0" points="46.8,198.4 71.3,190 74.6,195 50,203.4"/><polygon fill="#3cd0b0" points="253.2,198.4 228.7,190 225.4,195 250,203.4"/><polygon fill="#38b898" points="10,150 40,140 42,144 14,156"/><polygon fill="#38b898" points="290,150 260,140 258,144 286,156"/><polygon fill="#2a6f5c" points="30,150 63,146 70,160 40,175"/><polygon fill="#2a6f5c" points="270,150 237,146 230,160 260,175"/><polygon fill="#2f8a70" points="120.7,254.4 150,234 150,302 125,280"/><polygon fill="#2f8a70" points="179.3,254.4 150,234 150,302 175,280"/><polygon fill="#38c8a8" points="123.7,240 149.8,238.3 149.8,273.3"/><polygon fill="#38c8a8" points="176.3,240 150.2,238.3 150.2,273.3"/><polygon fill="#3ee8c8" points="124.3,273.9 92.6,245 101.9,260.9 128,285"/><polygon fill="#3ee8c8" points="175.7,273.9 207.4,245 198.1,260.9 172,285"/><polygon fill="#17443a" points="141.7,181.7 149.8,165.1 158,181.7 149.8,236.7"/><polygon fill="#26705a" points="145,258 150,246 155,258 150,290"/></g></g></svg>
<svg x="1149.7" y="1341.4" width="300.8" height="302.4" viewBox="0 0 300 302" preserveAspectRatio="none"><g clip-path="url(#hc)"><g filter="url(#gb)"><rect x="-10" y="-10" width="320" height="322" fill="#2b8a6d"/><polygon fill="#2c866b" points="-10,-10 150,-10 150,57 100,45 52,43 36,50 10,130 -10,130"/><polygon fill="#2c866b" points="310,-10 150,-10 150,57 200,45 248,43 264,50 290,130 310,130"/><polygon fill="#2a8268" points="-10,130 10,130 36,50 54,77 62,126 63,145 150,234 150,310 -10,310"/><polygon fill="#2a8268" points="310,130 290,130 264,50 246,77 238,126 237,145 150,234 150,310 310,310"/><polygon fill="#2d8c70" points="52,43 100,45 150,57 150,234 63,145 62,126 54,77"/><polygon fill="#2d8c70" points="248,43 200,45 150,57 150,234 237,145 238,126 246,77"/><polygon fill="#276e5a" points="44.9,10.6 64.2,17.6 51.9,37.9"/><polygon fill="#276e5a" points="255.1,10.6 235.8,17.6 248.1,37.9"/><polygon fill="#33836c" points="22,25 44.9,10.6 51.9,37.9 14,52"/><polygon fill="#33836c" points="278,25 255.1,10.6 248.1,37.9 286,52"/><polygon fill="#1d5446" points="53.3,38.6 66.4,27 97.5,45.3 94.2,50.3"/><polygon fill="#1d5446" points="246.7,38.6 233.6,27 202.5,45.3 205.8,50.3"/><polygon fill="#40ecd0" points="77.9,3.7 91,2.8 87.7,13.6 81.1,12"/><polygon fill="#40ecd0" points="222.1,3.7 209,2.8 212.3,13.6 218.9,12"/><polygon fill="#245548" points="7.5,53.6 38.6,46.9 48.4,83.5 20.6,90.2"/><polygon fill="#245548" points="292.5,53.6 261.4,46.9 251.6,83.5 279.4,90.2"/><polygon fill="#3ee8cc" points="35.3,50.3 53.3,43.6 59.9,88.5 46.8,85.2"/><polygon fill="#3ee8cc" points="264.7,50.3 246.7,43.6 240.1,88.5 253.2,85.2"/><polygon fill="#42eccc" points="61.5,52 94.2,62 89.3,72 64.8,60.2"/><polygon fill="#42eccc" points="238.5,52 205.8,62 210.7,72 235.2,60.2"/><polygon fill="#2a7a64" points="64.8,60.2 89.3,72 75,80 62,70"/><polygon fill="#2a7a64" points="235.2,60.2 210.7,72 225,80 238,70"/><polygon fill="#22604e" points="105,2 139.3,26 121.4,30.9 106,46"/><polygon fill="#22604e" points="195,2 160.7,26 178.6,30.9 194,46"/><polygon fill="#2a7a64" points="100,45 121.4,30.9 138.8,59.5 150,60 150,66 110,62"/><polygon fill="#2a7a64" points="200,45 178.6,30.9 161.2,59.5 150,60 150,66 190,62"/><polygon fill="#38dcb4" points="116,29 127,27 142,57 135,60"/><polygon fill="#38dcb4" points="184,29 173,27 158,57 165,60"/><polygon fill="#42f4e0" points="136,22 150,22 150,59"/><polygon fill="#42f4e0" points="164,22 150,22 150,59"/><polygon fill="#1f5e4c" points="122,61 150,60 150,67 126,66"/><polygon fill="#1f5e4c" points="178,61 150,60 150,67 174,66"/><polygon fill="#45ecd8" points="140,68 150,68 150,92"/><polygon fill="#45ecd8" points="160,68 150,68 150,92"/><polygon fill="#1f5e4c" points="78.3,80.1 93.2,72.2 113.5,94.2 104.7,98.6"/><polygon fill="#1f5e4c" points="221.7,80.1 206.8,72.2 186.5,94.2 195.3,98.6"/><polygon fill="#1f5848" points="59.9,90.2 77.9,106.8 84.4,123.5 69.7,131.8 61.5,123.5"/><polygon fill="#1f5848" points="240.1,90.2 222.1,106.8 215.6,123.5 230.3,131.8 238.5,123.5"/><polygon fill="#40eccb" points="77.9,106.8 92.6,88.5 113.8,91.9 125.3,116.8 117.1,128.5 84.4,123.5"/><polygon fill="#40eccb" points="222.1,106.8 207.4,88.5 186.2,91.9 174.7,116.8 182.9,128.5 215.6,123.5"/><polygon fill="#26715e" points="113.8,91.9 140,100 150,137 125.3,116.8"/><polygon fill="#26715e" points="186.2,91.9 160,100 150,137 174.7,116.8"/><polygon fill="#3fe8c8" points="51.7,43.6 56.6,43.6 64.8,140.1 61.5,140.1"/><polygon fill="#3fe8c8" points="248.3,43.6 243.4,43.6 235.2,140.1 238.5,140.1"/><polygon fill="#3ad0b0" points="25.5,90.2 38.6,93.5 69.7,145.1 63.1,146.8"/><polygon fill="#3ad0b0" points="274.5,90.2 261.4,93.5 230.3,145.1 236.9,146.8"/><polygon fill="#3cc8a8" points="2.6,110.2 22.2,123.5 19,131.8 4.2,123.5"/><polygon fill="#3cc8a8" points="297.4,110.2 277.8,123.5 281,131.8 295.8,123.5"/><polygon fill="#24604f" points="5,135 25,128 50,160 15,165"/><polygon fill="#24604f" points="295,135 275,128 250,160 285,165"/><polygon fill="#1c5446" points="64.8,131.8 150,138.5 77.9,150.1"/><polygon fill="#1c5446" points="235.2,131.8 150,138.5 222.1,150.1"/><polygon fill="#22675a" points="63,145 77.9,150.1 150,138.5 64.8,171.8"/><polygon fill="#22675a" points="237,145 222.1,150.1 150,138.5 235.2,171.8"/><polygon fill="#3ee6c4" points="150,138.5 64.8,171.8 91,171.8"/><polygon fill="#3ee6c4" points="150,138.5 235.2,171.8 209,171.8"/><polygon fill="#1f6252" points="150,138.5 91,171.8 107.3,190"/><polygon fill="#1f6252" points="150,138.5 209,171.8 192.7,190"/><polygon fill="#40eac8" points="150,138.5 107.3,190 120.4,206.7"/><polygon fill="#40eac8" points="150,138.5 192.7,190 179.6,206.7"/><polygon fill="#236a58" points="150,138.5 120.4,206.7 130,214"/><polygon fill="#236a58" points="150,138.5 179.6,206.7 170,214"/><polygon fill="#45eccc" points="150,138.5 130,214 141,226"/><polygon fill="#45eccc" points="150,138.5 170,214 159,226"/><polygon fill="#2a7a64" points="150,138.5 141,226 145,230"/><polygon fill="#2a7a64" points="150,138.5 159,226 155,230"/><polygon fill="#3ad8b8" points="64.8,171.8 91,171.8 102,196 98,200"/><polygon fill="#3ad8b8" points="235.2,171.8 209,171.8 198,196 202,200"/><polygon fill="#2a6a58" points="70,214 116.1,212.4 150,234 120.7,254.4 90,240"/><polygon fill="#2a6a58" points="230,214 183.9,212.4 150,234 179.3,254.4 210,240"/><polygon fill="#3ee0c0" points="98,200 107.3,190 139.3,226 120,232"/><polygon fill="#3ee0c0" points="202,200 192.7,190 160.7,226 180,232"/><polygon fill="#246452" points="20,165 60,180 42.5,199.4 30,190"/><polygon fill="#246452" points="280,165 240,180 257.5,199.4 270,190"/><polygon fill="#3cd0b0" points="46.8,198.4 71.3,190 74.6,195 50,203.4"/><polygon fill="#3cd0b0" points="253.2,198.4 228.7,190 225.4,195 250,203.4"/><polygon fill="#38b898" points="10,150 40,140 42,144 14,156"/><polygon fill="#38b898" points="290,150 260,140 258,144 286,156"/><polygon fill="#2a6f5c" points="30,150 63,146 70,160 40,175"/><polygon fill="#2a6f5c" points="270,150 237,146 230,160 260,175"/><polygon fill="#2f8a70" points="120.7,254.4 150,234 150,302 125,280"/><polygon fill="#2f8a70" points="179.3,254.4 150,234 150,302 175,280"/><polygon fill="#38c8a8" points="123.7,240 149.8,238.3 149.8,273.3"/><polygon fill="#38c8a8" points="176.3,240 150.2,238.3 150.2,273.3"/><polygon fill="#3ee8c8" points="124.3,273.9 92.6,245 101.9,260.9 128,285"/><polygon fill="#3ee8c8" points="175.7,273.9 207.4,245 198.1,260.9 172,285"/><polygon fill="#17443a" points="141.7,181.7 149.8,165.1 158,181.7 149.8,236.7"/><polygon fill="#26705a" points="145,258 150,246 155,258 150,290"/></g></g></svg>
<circle cx="1627" cy="1565" r="78" fill="#000" opacity="0.2" filter="url(#blur)"/>
<circle cx="1619.5" cy="1557.4" r="79.2" fill="url(#rg)"/>
<g stroke="#000" stroke-width="5" stroke-dasharray="20 10">
<path d="M1620 1474.5H1862"/><path d="M1619.3 1638.4H1861"/>
</g>
<text font-family="Liberation Sans, sans-serif" font-size="62" transform="translate(1852.7 1619) rotate(-90) scale(0.8 1)">6 mm</text>
<g>
<path d="M1632.2 1275H1585.5Q1577.4 1275 1577.4 1283.5V1375Q1577.4 1382.3 1584 1382.3H1632.2Z" fill="url(#er)"/>
<rect x="1632" y="1274" width="131" height="109" fill="url(#fe)"/>
<g fill="#5a3020" opacity="0.22">
<rect x="1655" y="1276" width="4" height="106"/><rect x="1666" y="1276" width="3" height="106"/><rect x="1676" y="1276" width="3" height="106"/>
<rect x="1716" y="1290" width="3" height="80"/><rect x="1726" y="1290" width="4" height="80"/><rect x="1736" y="1290" width="3" height="80"/><rect x="1746" y="1290" width="4" height="80"/>
</g>
<circle cx="1663" cy="1287.5" r="2.6" fill="#2a1a14"/>
<circle cx="1661.5" cy="1344" r="2.8" fill="#c03030"/>
<circle cx="1662.5" cy="1376" r="2" fill="#6a4a3a"/>
<rect x="1762.5" y="1275.5" width="237.5" height="107.5" fill="url(#pb)"/>
</g>
</svg>
</body></html>
